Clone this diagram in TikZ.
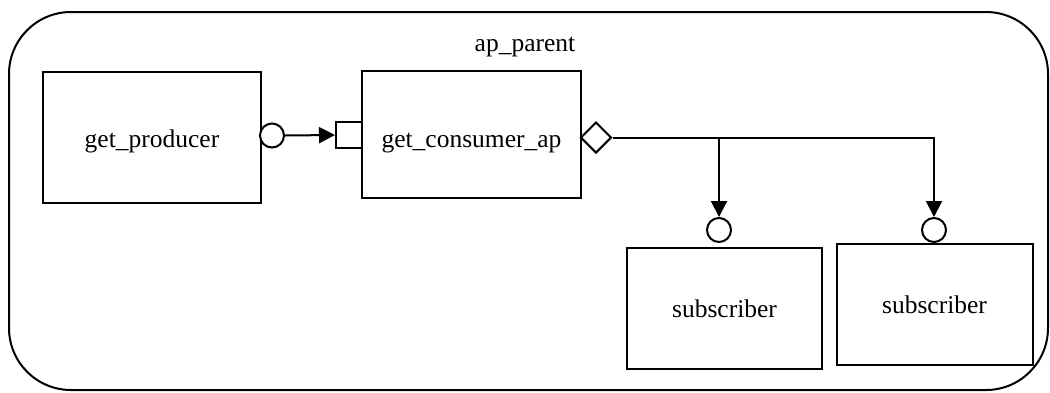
\documentclass[tikz,border=0pt]{standalone}
\usepackage{fontspec}
\setmainfont{Liberation Serif}
\usetikzlibrary{shapes.geometric,arrows.meta}

\tikzset{
  x=1pt, y=-1pt,
  every node/.style={font=\fontsize{25.5}{30}\selectfont},
  line/.style={line width=2pt, black},
  container/.style={line, draw, rounded corners=62pt, inner sep=0pt},
  block/.style={line, draw, inner sep=0pt},
  portcircle/.style={line, draw, fill=white, circle, inner sep=0pt, minimum size=24pt},
  portsquare/.style={line, draw, fill=white, rectangle, inner sep=0pt, minimum size=26pt},
  portdiamond/.style={line, draw, fill=white, diamond, aspect=1, inner sep=0pt, minimum size=31pt},
  flow/.style={line, -{Triangle[length=16pt,width=16pt]}},
}

\begin{document}
\begin{tikzpicture}
\useasboundingbox (0,0) rectangle (1050,392);

% enclosing component
\node[container, minimum width=1039pt, minimum height=378pt] (parent) at (528.5,201) {};
\node (parentlabel) at (525,47) {ap\_parent};

% inner components
\node[block, minimum width=218pt, minimum height=131pt, text height=20pt, text depth=0pt] (producer) at (152,137.5) {get\_producer};
\node[block, minimum width=219pt, minimum height=127pt, text height=27pt, text depth=0pt] (consumer) at (471.5,134) {get\_consumer\_ap};
\node[block, minimum width=195pt, minimum height=121pt] (sub1) at (724.5,308.5) {subscriber};
\node[block, minimum width=196pt, minimum height=121pt] (sub2) at (934.5,304.5) {subscriber};

% ports
\node[portcircle] (pout) at (272,135.5) {};
\node[portsquare] (cin) at (349,135) {};
\node[portdiamond] (cout) at (596,137.5) {};
\node[portcircle] (s1in) at (719,230) {};
\node[portcircle] (s2in) at (934,230) {};

% connectors
\draw[flow] (pout.east) -- (cin.west);
\draw[flow] (cout.east) -| (s2in.north);
\draw[flow] (cout.east -| s1in.north) -- (s1in.north);
\end{tikzpicture}
\end{document}
